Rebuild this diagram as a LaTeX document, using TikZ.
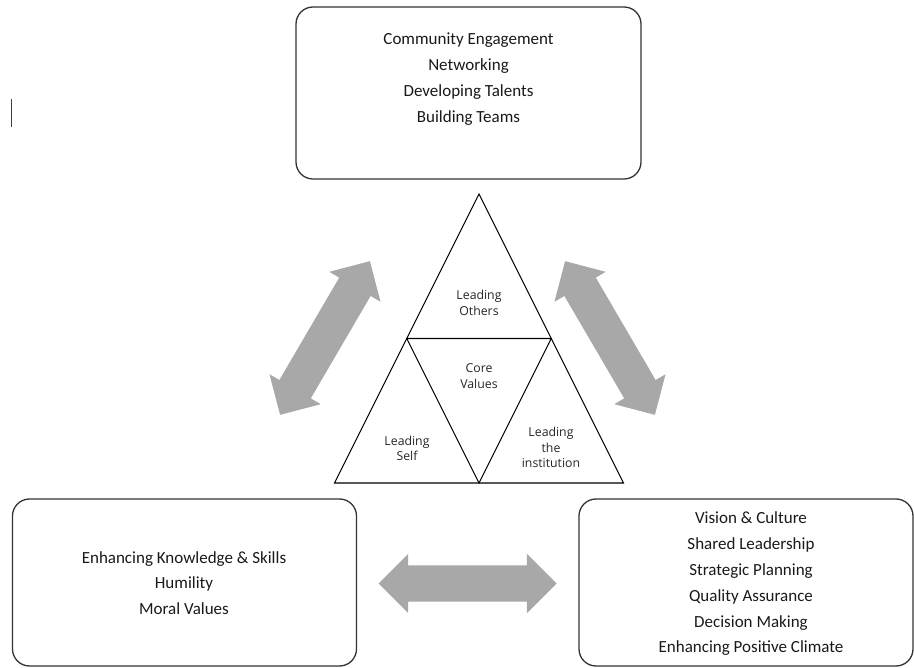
\documentclass[tikz,border=0pt]{standalone}
\usepackage{fontspec}
\setmainfont{Carlito}
\newfontfamily\trifont{Open Sans}
\usetikzlibrary{shapes.arrows}
\definecolor{linkgray}{RGB}{168,168,168}

\tikzset{
  areabox/.style={draw=black!80, line width=1.3pt, rounded corners=17pt, inner sep=0pt},
  listtext/.style={align=center, font=\fontsize{17}{25.8}\selectfont, text=black!90},
  tritext/.style={align=center, font=\trifont\fontsize{12.3}{15.5}\selectfont, text=black!85},
  linkarrow/.style={double arrow, fill=linkgray, draw=none, inner xsep=0pt, inner ysep=18pt,
    minimum height=178pt,
    double arrow head extend=11.5pt, double arrow tip angle=90},
}

\begin{document}
\begin{tikzpicture}[x=1pt, y=-1pt]
\useasboundingbox (0,0) rectangle (914,668);

% boxes
\node [areabox, minimum width=345pt, minimum height=172pt] (others) at (468.5,93) {};
\node [listtext] (otherslist) at (468.5,79) {Community Engagement\\Networking\\Developing Talents\\Building Teams};
\node [areabox, minimum width=344pt, minimum height=167pt] (self) at (184.5,582.5) {};
\node [listtext] (selflist) at (184,583) {Enhancing Knowledge \& Skills\\Humility\\Moral Values};
\node [areabox, minimum width=334pt, minimum height=167pt] (inst) at (746,582.5) {};
\node [listtext] (instlist) at (751,584) {Vision \& Culture\\Shared Leadership\\Strategic Planning\\Quality Assurance\\Decision Making\\Enhancing Positive Climate};

% triangle
\coordinate (apex) at (479,194);
\coordinate (botleft) at (334.5,483);
\coordinate (botright) at (623.5,483);
\coordinate (midleft) at (406.75,338.5);
\coordinate (midright) at (551.25,338.5);
\coordinate (midbot) at (479,483);
\draw [line width=1.1pt] (apex) -- (botleft) -- (botright) -- cycle;
\draw [line width=1.1pt] (midleft) -- (midright) -- (midbot) -- cycle;
\node [tritext] (leadothers) at (479,303) {Leading\\Others};
\node [tritext] (core) at (479,376) {Core\\Values};
\node [tritext] (leadself) at (407,448.5) {Leading\\Self};
\node [tritext] (leadinst) at (551,447.5) {Leading\\the\\institution};

% arrows
\node [linkarrow, rotate=59.7] (linkleft) at (325,338) {};
\node [linkarrow, rotate=-59.7] (linkright) at (610,338) {};
\node [linkarrow] (linkbottom) at (467.5,583.5) {};

\draw [line width=1.3pt, black!75] (11.7,99) -- (11.7,127);
\end{tikzpicture}
\end{document}
